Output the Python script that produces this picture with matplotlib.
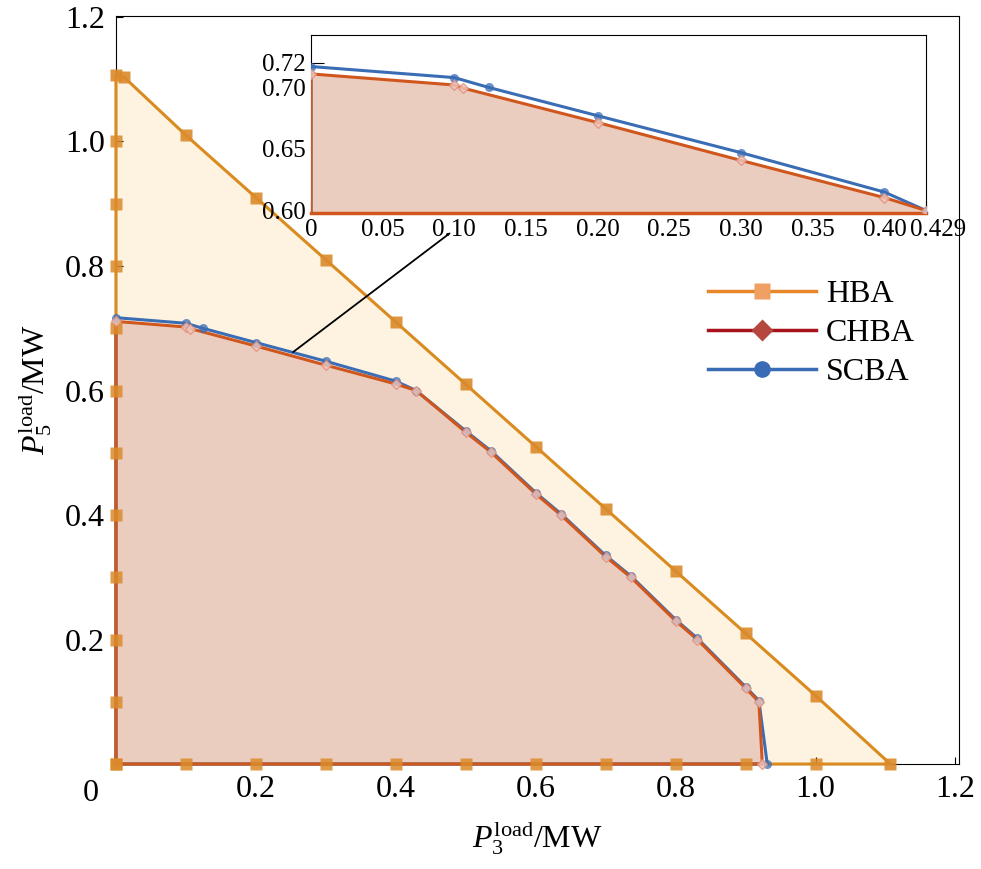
import numpy as np
import matplotlib
matplotlib.use("Agg")
from matplotlib import pyplot as plt
from matplotlib.lines import Line2D
from matplotlib.transforms import ScaledTranslation

plt.rcParams['font.family'] = ['Liberation Serif', 'DejaVu Serif']
plt.rcParams['mathtext.fontset'] = 'custom'
plt.rcParams['mathtext.rm'] = 'Liberation Serif'
plt.rcParams['mathtext.it'] = 'Liberation Serif:italic'

# HBA: outer boundary (diagonal) and points on both axes
hba_x = [0, 0.011, 0.1, 0.2, 0.3, 0.4, 0.5, 0.6, 0.7, 0.8, 0.9, 1.0, 1.107]
hba_y = [1.107, 1.104, 1.01, 0.91, 0.81, 0.71, 0.61, 0.51, 0.41, 0.31, 0.21, 0.11, 0]
hba_axis = [0, 0.1, 0.2, 0.3, 0.4, 0.5, 0.6, 0.7, 0.8, 0.9, 1.0]

# CHBA boundary
chba_x = [0, 0.1, 0.106, 0.2, 0.3, 0.4, 0.429, 0.5, 0.536, 0.6, 0.636,
          0.7, 0.736, 0.8, 0.831, 0.9, 0.919, 0.924]
chba_y = [0.711, 0.702, 0.6995, 0.6715, 0.6407, 0.6105, 0.600, 0.533, 0.501,
          0.434, 0.400, 0.333, 0.300, 0.230, 0.200, 0.122, 0.100, 0]

# SCBA boundary
scba_x = [0, 0.1, 0.124, 0.2, 0.3, 0.4, 0.429, 0.5, 0.536, 0.6, 0.636,
          0.7, 0.736, 0.8, 0.831, 0.9, 0.919, 0.931]
scba_y = [0.717, 0.708, 0.700, 0.677, 0.647, 0.615, 0.600, 0.535, 0.503,
          0.436, 0.402, 0.335, 0.302, 0.232, 0.202, 0.124, 0.102, 0]

main_ticks = [0.2, 0.4, 0.6, 0.8, 1.0, 1.2]
inset_xticks = [0, 0.05, 0.10, 0.15, 0.20, 0.25, 0.30, 0.35, 0.40, 0.429]
inset_xlabels = ['0', '0.05', '0.10', '0.15', '0.20', '0.25', '0.30', '0.35', '0.40', '0.429']
inset_yticks = [0.60, 0.65, 0.70, 0.72]

c_hba = '#D98B1F'
c_hba_mk = '#DB8A2A'
c_chba = '#CF561D'
c_scba = '#3B6DB5'
fill_hba = '#FDF3E0'
fill_chba = '#EBCDC0'


def closed(xs, ys):
    # close the region through the origin
    return [0] + list(xs) + [0], [0] + list(ys) + [0]


def draw(ax, with_hba=True, clip=True):
    cx, cy = closed(chba_x, chba_y)
    sx, sy = closed(scba_x, scba_y)
    if with_hba:
        hx, hy = closed(hba_x, hba_y)
        ax.fill(hx, hy, color=fill_hba, zorder=1, lw=0)
        ax.plot(hx, hy, color=c_hba, lw=2.2, zorder=3, clip_on=clip)
    ax.fill(cx, cy, color=fill_chba, zorder=2, lw=0)
    ax.plot(sx, sy, color=c_scba, lw=2.2, zorder=4, clip_on=clip)
    ax.plot(cx, cy, color=c_chba, lw=2.2, zorder=5, clip_on=clip)
    if with_hba:
        ax.plot(hba_x, hba_y, 's', color=c_hba_mk, ms=9, alpha=0.9, zorder=6,
                mec='none', clip_on=clip)
        ax.plot(np.zeros(len(hba_axis)), hba_axis, 's', color=c_hba_mk, ms=9,
                alpha=0.85, zorder=6, mec='none', clip_on=clip)
        ax.plot(hba_axis, np.zeros(len(hba_axis)), 's', color=c_hba_mk, ms=9,
                alpha=0.85, zorder=6, mec='none', clip_on=clip)
    ax.plot(scba_x, scba_y, 'o', color=c_scba, ms=6.5, alpha=0.75, zorder=7,
            mec='none', clip_on=clip)
    ax.plot(chba_x, chba_y, 'D', mfc='#F2C9BE', mec='#E0907E', mew=1.0,
            ms=5.5, alpha=0.8, zorder=8, clip_on=clip)


fig = plt.figure(figsize=(9.81, 8.69), dpi=100)
ax = fig.add_axes([0.1182, 0.1208, 0.8593, 0.8608])
draw(ax, with_hba=True, clip=False)
ax.set_xlim(0, 1.205)
ax.set_ylim(0, 1.2016)
ax.set_xticks(main_ticks)
ax.set_xticklabels(['0.2', '0.4', '0.6', '0.8', '1.0', '1.2'])
ax.set_yticks([0] + main_ticks)
ax.set_yticklabels(['', '0.2', '0.4', '0.6', '0.8', '1.0', '1.2'])
ax.tick_params(direction='in', length=5, labelsize=23, pad=8)
ax.text(-0.02, -0.02, '0', transform=ax.transAxes, ha='right', va='top', fontsize=23)
ax.set_xlabel(r'$P_3^{\mathrm{load}}$/MW', fontsize=23, labelpad=10)
ax.set_ylabel(r'$P_5^{\mathrm{load}}$/MW', fontsize=23, labelpad=8)

handles = [
    Line2D([], [], color='#E8862A', lw=2.5, marker='s', ms=11, mfc='#EFA062', mec='none'),
    Line2D([], [], color='#A8121C', lw=2.5, marker='D', ms=11, mfc='#B5473F', mec='none'),
    Line2D([], [], color='#3A6CB5', lw=2.5, marker='o', ms=12, mfc='#3A6CB5', mec='none'),
]
ax.legend(handles, ['HBA', 'CHBA', 'SCBA'], loc='upper left', bbox_to_anchor=(0.687, 0.664),
          frameon=False, fontsize=23, handlelength=3.4, handletextpad=0.3,
          labelspacing=0.3, borderaxespad=0)

ax.annotate('', xy=(0.25, 0.659), xytext=(0.48, 0.855),
            arrowprops=dict(arrowstyle='-', color='black', lw=1.3), zorder=9)

# zoomed inset
axin = fig.add_axes([0.317, 0.7549, 0.6269, 0.2048])
axin.set_zorder(10)
draw(axin, with_hba=False, clip=True)
axin.set_facecolor('white')
axin.set_xlim(0, 0.429)
axin.set_ylim(0.598, 0.7426)
axin.set_xticks(inset_xticks)
axin.set_xticklabels(inset_xlabels)
axin.set_yticks(inset_yticks)
axin.set_yticklabels(['0.60', '0.65', '0.70', '0.72'])
axin.tick_params(direction='in', length=9, labelsize=18, pad=4)
axin.spines['bottom'].set_color(c_chba)
axin.spines['bottom'].set_linewidth(2.5)
last = axin.get_xticklabels()[-1]
last.set_transform(last.get_transform() + ScaledTranslation(0.12, 0, fig.dpi_scale_trans))

fig.savefig('out.png', dpi=100)
